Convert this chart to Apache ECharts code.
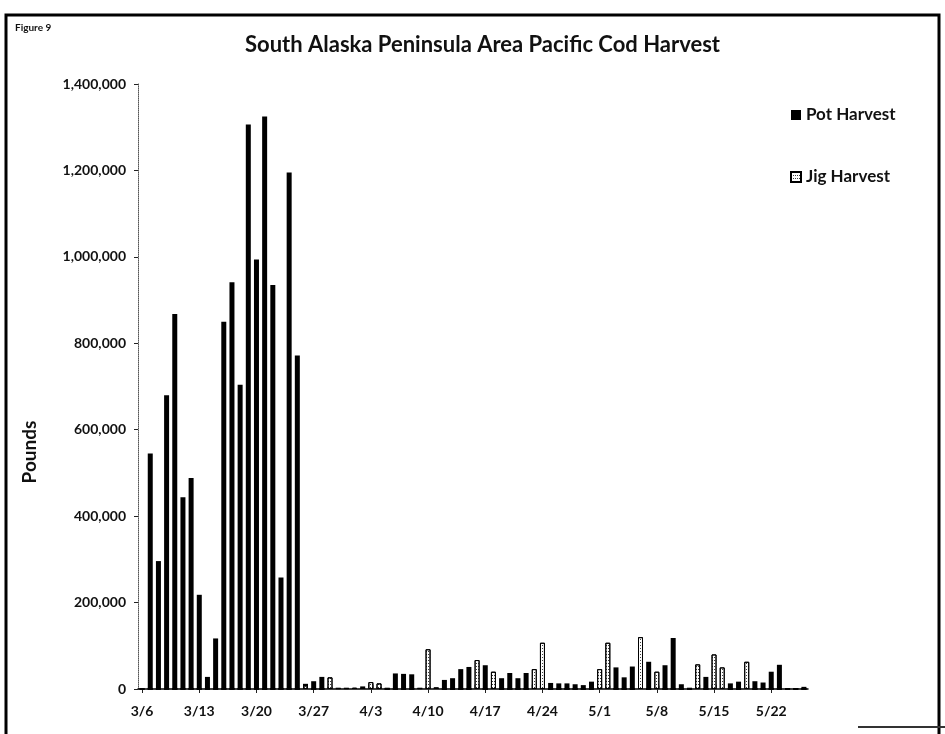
<!DOCTYPE html>
<html><head><meta charset="utf-8">
<script src="https://cdn.jsdelivr.net/npm/echarts@6/dist/echarts.min.js"></script>
<style>html,body{margin:0;padding:0;background:#fff}#c{width:945px;height:734px}</style>
</head><body><div id="c"></div>
<script>
const dates = [
  '3/6','3/7','3/8','3/9','3/10','3/11','3/12','3/13','3/14','3/15','3/16','3/17','3/18','3/19','3/20',
  '3/21','3/22','3/23','3/24','3/25','3/26','3/27','3/28','3/29','3/30','3/31',
  '4/1','4/2','4/3','4/4','4/5','4/6','4/7','4/8','4/9','4/10','4/11','4/12','4/13','4/14','4/15',
  '4/16','4/17','4/18','4/19','4/20','4/21','4/22','4/23','4/24','4/25','4/26','4/27','4/28','4/29','4/30',
  '5/1','5/2','5/3','5/4','5/5','5/6','5/7','5/8','5/9','5/10','5/11','5/12','5/13','5/14','5/15',
  '5/16','5/17','5/18','5/19','5/20','5/21','5/22','5/23','5/24','5/25','5/26'
];
const potHarvest = [
  0, 545000, 296000, 680000, 868000, 444000, 488000, 218000, 28000, 117000,
  850000, 941000, 704000, 1306000, 994000, 1325000, 935000, 258000, 1195000, 772000,
  12000, 18000, 28000, 5000, 3000, 3000, 2000, 6000, 10000, 5000,
  3000, 36000, 35000, 34000, 3000, 5000, 4000, 21000, 25000, 46000,
  51000, 10000, 55000, 8000, 25000, 37000, 25000, 37000, 10000, 8000,
  14000, 13000, 13000, 11000, 9000, 17000, 12000, 8000, 50000, 27000,
  52000, 10000, 63000, 8000, 55000, 118000, 11000, 3000, 10000, 28000,
  10000, 0, 13000, 17000, 8000, 18000, 15000, 40000, 56000, 2000,
  2000, 5000
];
const jigHarvest = [
  0, 0, 0, 0, 0, 0, 0, 0, 0, 0,
  0, 0, 0, 0, 0, 0, 0, 0, 0, 0,
  8000, 0, 0, 27000, 2000, 2000, 3000, 3000, 16000, 13000,
  0, 0, 0, 0, 2000, 92000, 3000, 0, 0, 0,
  0, 67000, 0, 40000, 0, 0, 0, 0, 46000, 107000,
  0, 0, 0, 0, 0, 0, 46000, 107000, 0, 0,
  0, 120000, 0, 40000, 0, 0, 0, 0, 57000, 0,
  80000, 50000, 0, 0, 63000, 0, 0, 0, 0, 0,
  0, 0
];
const seriesNames = ['Pot Harvest', 'Jig Harvest'];
const yMax = 1400000;
const yStep = 200000;

const FONT = 'Lato, "Open Sans", sans-serif';
const chart = echarts.init(document.getElementById('c'));
chart.setOption({
  backgroundColor: '#fff',
  animation: false,
  title: {
    text: 'South Alaska Peninsula Area Pacific Cod Harvest',
    left: 240, top: 29,
    textStyle: {fontFamily: FONT, fontSize: 22, fontWeight: 'bold', color: '#111'}
  },
  legend: {
    data: seriesNames,
    orient: 'vertical',
    left: 785, top: 100,
    itemWidth: 10, itemHeight: 10, itemGap: 42,
    icon: 'rect',
    textStyle: {fontFamily: FONT, fontSize: 17, fontWeight: 'bold', color: '#111', lineHeight: 20}
  },
  grid: {left: 138, right: 137, top: 84, bottom: 45, containLabel: false},
  xAxis: {
    type: 'category',
    data: dates,
    boundaryGap: true,
    axisLine: {show: true, lineStyle: {color: '#000', width: 1.5}},
    axisTick: {show: true, interval: 6, alignWithLabel: true, length: 4, lineStyle: {color: '#222'}},
    axisLabel: {interval: 6, margin: 15, fontFamily: FONT, fontSize: 14, fontWeight: 'bold', color: '#111'},
    splitLine: {show: false}
  },
  yAxis: {
    type: 'value',
    min: 0, max: yMax, interval: yStep,
    axisLine: {show: true, lineStyle: {color: '#555', type: 'dotted', width: 1}},
    axisTick: {show: true, length: 4, lineStyle: {color: '#222'}},
    axisLabel: {
      margin: 12, fontFamily: FONT, fontSize: 14, fontWeight: 'bold', color: '#111',
      formatter: v => v.toLocaleString('en-US')
    },
    splitLine: {show: false}
  },
  series: [
    {
      name: seriesNames[0], type: 'bar', data: potHarvest,
      barWidth: 5, barGap: '-100%',
      itemStyle: {color: '#000'}
    },
    {
      name: seriesNames[1], type: 'bar', data: jigHarvest,
      barWidth: 5, barGap: '-100%',
      itemStyle: {
        color: '#fff', borderColor: '#000', borderWidth: 1,
        decal: {symbol: 'rect', symbolSize: 1, color: 'rgba(0,0,0,0.75)', dashArrayX: [1, 1], dashArrayY: [1, 2]}
      }
    }
  ],
  graphic: [
    {type: 'rect', z: -10, shape: {x: 6, y: 15, width: 933, height: 740},
     style: {fill: 'none', stroke: '#000', lineWidth: 3}},
    {type: 'line', shape: {x1: 858, y1: 727, x2: 945, y2: 727}, style: {stroke: '#333', lineWidth: 2}},
    {type: 'text', left: 15, top: 23,
     style: {text: 'Figure 9', font: 'bold 10px ' + FONT, fill: '#111'}},
    {type: 'text', x: 30, y: 452, rotation: Math.PI / 2,
     style: {text: 'Pounds', font: 'bold 19px ' + FONT, fill: '#111', textAlign: 'center', textVerticalAlign: 'middle'}}
  ]
});
</script>
</body></html>
